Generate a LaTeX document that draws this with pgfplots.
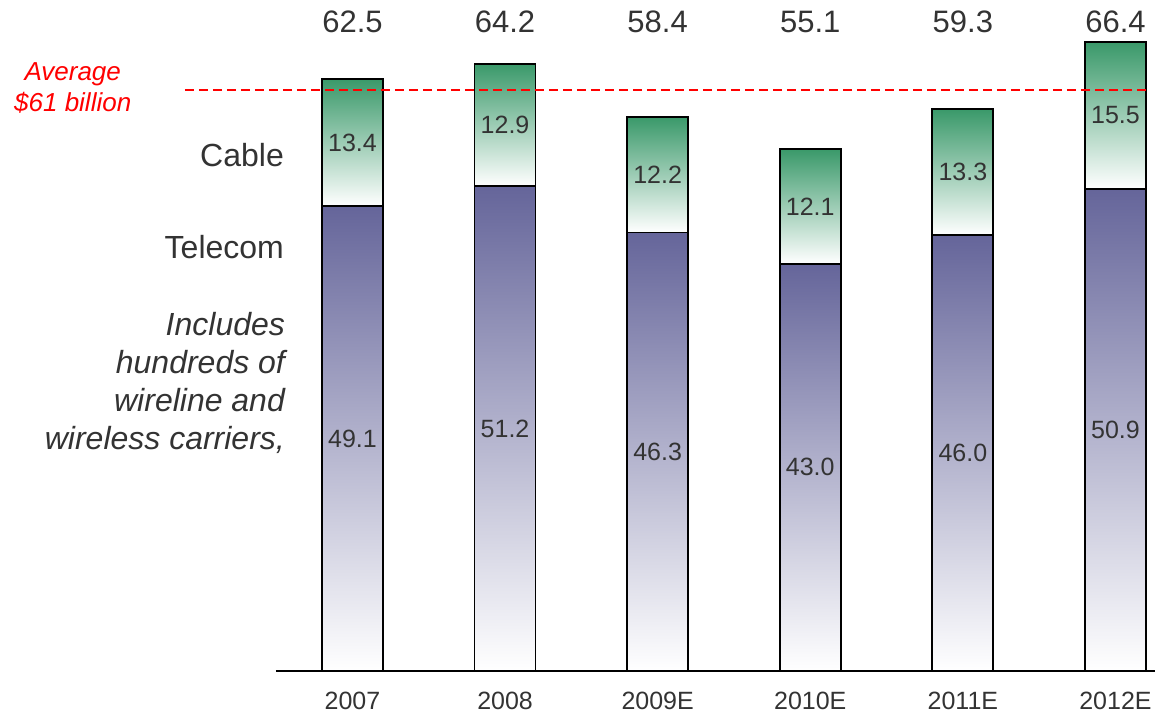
\documentclass[border=0pt]{standalone}
\usepackage{pgfplots}
\pgfplotsset{compat=1.18}
\usepackage{fontspec}
\setmainfont{Liberation Sans}
\definecolor{cable}{HTML}{3A996A}
\definecolor{telecom}{HTML}{65659A}
\definecolor{txt}{HTML}{333333}
\definecolor{avgred}{HTML}{FF0000}
\pgfplotsset{
  common/.style={
    at={(0pt,0pt)}, anchor=south west,
    scale only axis,
    width=439.5pt, height=331.5pt,
    xmin=-0.501, xmax=5.259,
    ymin=0, ymax=70,
    clip=false,
  },
  barax/.style={common, hide axis, ybar stacked, bar width=30.5pt},
  tel/.style={draw=black, line width=0.9pt, top color=telecom, bottom color=white},
  cab/.style={draw=black, line width=0.9pt, top color=cable, middle color=cable!35!white, bottom color=white},
}
\begin{document}
\begin{tikzpicture}
\useasboundingbox (-138pt,-25.5pt) rectangle (439.5pt,335.5pt);
% one stacked axis per year, so that each bar gets its own shading
\begin{axis}[barax]
\addplot[tel] coordinates {(0,49.1)};
\addplot[cab] coordinates {(0,13.4)};
\end{axis}
\begin{axis}[barax]
\addplot[tel] coordinates {(1,51.2)};
\addplot[cab] coordinates {(1,12.9)};
\end{axis}
\begin{axis}[barax]
\addplot[tel] coordinates {(2,46.3)};
\addplot[cab] coordinates {(2,12.2)};
\end{axis}
\begin{axis}[barax]
\addplot[tel] coordinates {(3,43.0)};
\addplot[cab] coordinates {(3,12.1)};
\end{axis}
\begin{axis}[barax]
\addplot[tel] coordinates {(4,46.0)};
\addplot[cab] coordinates {(4,13.3)};
\end{axis}
\begin{axis}[barax]
\addplot[tel] coordinates {(5,50.9)};
\addplot[cab] coordinates {(5,15.5)};
\end{axis}

% axis line, ticks, annotations
\begin{axis}[
  common,
  axis x line*=bottom,
  axis y line=none,
  x axis line style={line width=1pt, -},
  xtick={0,1,2,3,4,5},
  xticklabels={2007,2008,2009E,2010E,2011E,2012E},
  xtick style={draw=none},
  xticklabel style={font=\fontsize{12.5pt}{15pt}\selectfont, text=txt, yshift=-7pt},
]
% average line
\draw[avgred, line width=1pt, dash pattern=on 4.5pt off 2.5pt]
  (axis cs:-1.098,61.3) -- (axis cs:5.226,61.3);
\node[avgred, font=\fontsize{13pt}{15.5pt}\selectfont\itshape, align=center]
  at (axis cs:-1.833,61.6) {Average\\\$61 billion};

% left labels
\node[txt, anchor=east, font=\fontsize{16pt}{19pt}\selectfont, inner sep=0pt]
  at (axis cs:-0.447,54.5) {Cable};
\node[txt, anchor=east, font=\fontsize{16pt}{19pt}\selectfont, inner sep=0pt]
  at (axis cs:-0.447,44.8) {Telecom};
\node[txt, anchor=east, font=\fontsize{16pt}{18.9pt}\selectfont\itshape, align=right, inner sep=0pt]
  at (axis cs:-0.44,30.4) {Includes\\hundreds of\\wireline and\\wireless carriers,};

% totals
\addplot[only marks, mark=none, nodes near coords, point meta=explicit symbolic,
  every node near coord/.style={anchor=center, text=txt, font=\fontsize{15.5pt}{18pt}\selectfont}]
  table[meta=label] {
x y label
0 68.5 62.5
1 68.5 64.2
2 68.5 58.4
3 68.5 55.1
4 68.5 59.3
5 68.5 66.4
};
% telecom labels (segment middles)
\addplot[only marks, mark=none, nodes near coords, point meta=explicit symbolic,
  every node near coord/.style={anchor=center, text=txt, font=\fontsize{12.5pt}{15pt}\selectfont}]
  table[meta=label] {
x y label
0 24.55 49.1
1 25.6 51.2
2 23.15 46.3
3 21.5 43.0
4 23.0 46.0
5 25.45 50.9
};
% cable labels (segment middles)
\addplot[only marks, mark=none, nodes near coords, point meta=explicit symbolic,
  every node near coord/.style={anchor=center, text=txt, font=\fontsize{12.5pt}{15pt}\selectfont}]
  table[meta=label] {
x y label
0 55.8 13.4
1 57.65 12.9
2 52.4 12.2
3 49.05 12.1
4 52.65 13.3
5 58.65 15.5
};
\end{axis}
\end{tikzpicture}
\end{document}
